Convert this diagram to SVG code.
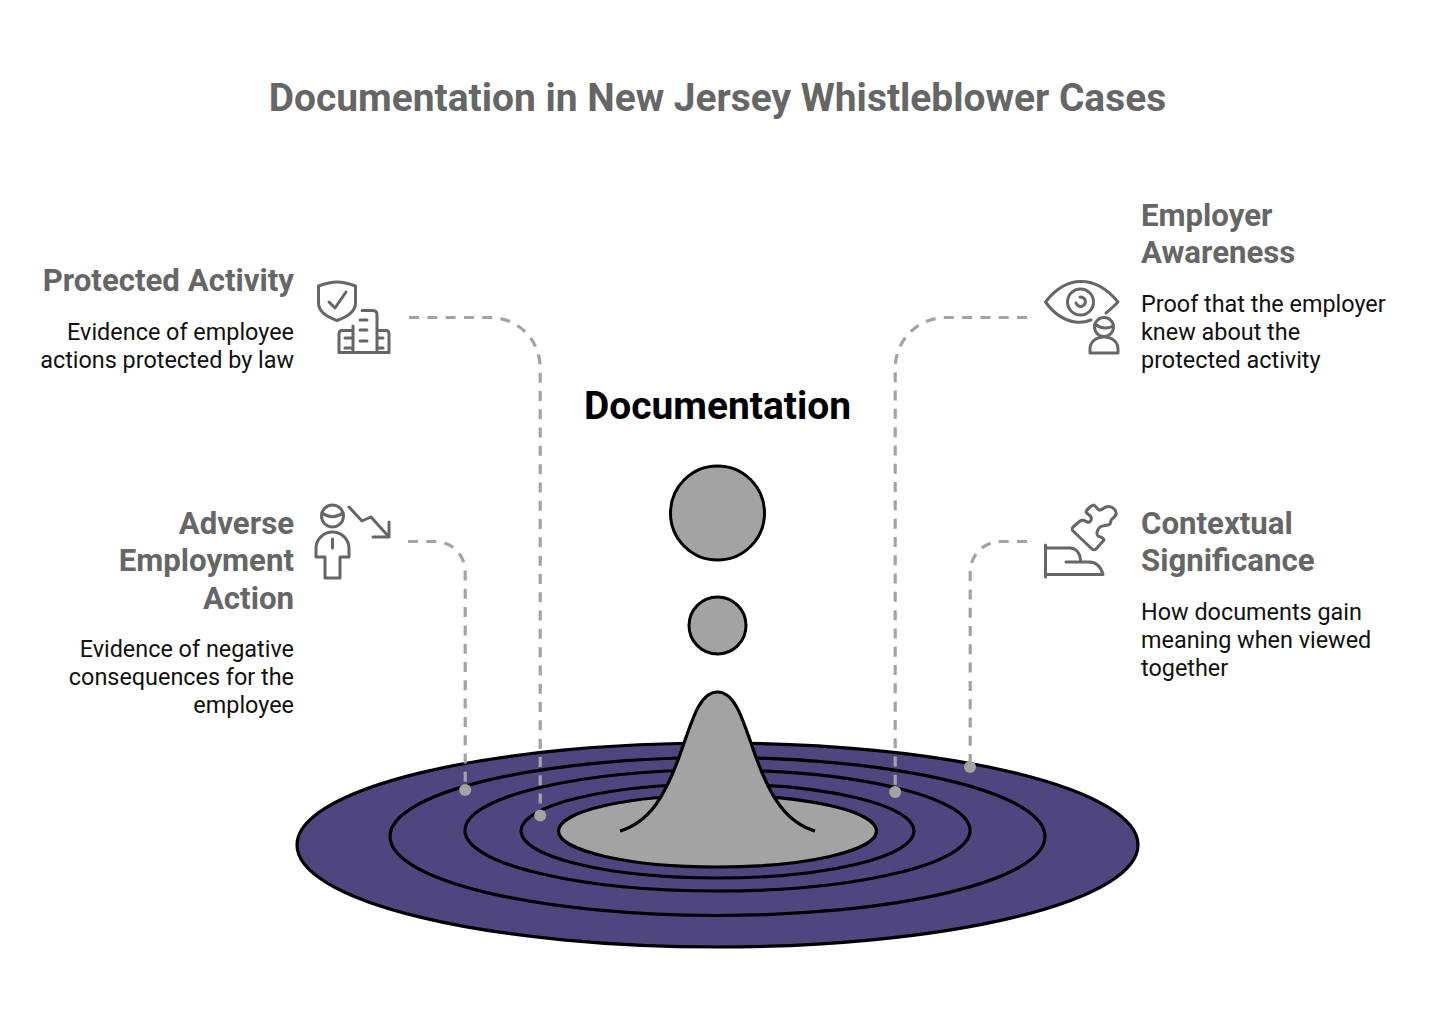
<svg xmlns="http://www.w3.org/2000/svg" width="1432" height="1023" viewBox="0 0 1432 1023">
<style>
text{font-family:Roboto,"Liberation Sans",sans-serif}
.title{font-size:38.9px;font-weight:700;fill:#666}
.head{font-size:31.2px;font-weight:700;fill:#666}
.body{font-size:23.4px;fill:#111}
.end{text-anchor:end}
.ic{fill:none;stroke:#666;stroke-width:3;stroke-linecap:round;stroke-linejoin:round}
.ring{stroke:#000;stroke-width:3.2}
.conn{fill:none;stroke:#a3a3a3;stroke-width:3.2;stroke-dasharray:10 8.3}
.dot{fill:#a3a3a3}
</style>
<rect width="1432" height="1023" fill="#fff"/>
<text id="title" class="title" x="717.5" y="111" text-anchor="middle">Documentation in New Jersey Whistleblower Cases</text>
<g id="ripple">
<ellipse class="ring" cx="717.5" cy="845" rx="420.5" ry="102" fill="#4f457f"/>
<ellipse class="ring" cx="717.5" cy="836.5" rx="327.5" ry="79" fill="#4f457f"/>
<ellipse class="ring" cx="717.5" cy="830.5" rx="252.5" ry="60.5" fill="#4f457f"/>
<ellipse class="ring" cx="717.5" cy="831" rx="196.5" ry="47" fill="#4f457f"/>
<ellipse class="ring" cx="717.5" cy="831" rx="159" ry="36" fill="#a3a3a3"/>
<path d="M620 831C650 822 665 795 678 760C691 725 698 692 717.5 692C737 692 744 725 757 760C770 795 785 822 815 831L780 862H655Z" fill="#a3a3a3"/>
<path d="M620 831C650 822 665 795 678 760C691 725 698 692 717.5 692C737 692 744 725 757 760C770 795 785 822 815 831" fill="none" stroke="#000" stroke-width="3.2"/>
<circle cx="717.5" cy="513" r="47" fill="#a3a3a3" stroke="#000" stroke-width="3"/>
<circle cx="717.5" cy="625.5" r="28.5" fill="#a3a3a3" stroke="#000" stroke-width="3"/>
<text x="717.5" y="419" text-anchor="middle" font-size="38.900" font-weight="700" fill="#000">Documentation</text>
</g>
<g id="connectors">
<path class="conn" d="M409 317.500H490C518 317.500 540.200 340 540.200 368V810"/>
<path class="conn" d="M408 541.500H435C452 541.500 465.200 555 465.200 572V785"/>
<path class="conn" d="M1027 317.500H946C918 317.500 895.200 340 895.200 368V786"/>
<path class="conn" d="M1027 541.500H1001C984 541.500 970.200 555 970.200 572V762"/>
<circle class="dot" cx="540.200" cy="815.500" r="6"/>
<circle class="dot" cx="465.200" cy="790" r="6"/>
<circle class="dot" cx="895.200" cy="792" r="6"/>
<circle class="dot" cx="970" cy="767" r="6"/>
</g>
<g id="protected-activity">
<text class="head end" x="294" y="291">Protected Activity</text>
<text class="body end" x="294" y="339.500">Evidence of employee</text>
<text class="body end" x="294" y="367.500">actions protected by law</text>
<g class="ic">
<path d="M337 282C330 282 324 284 318.500 286V303C318.500 311 327 317 337 320.500C347 317 355.500 311 355.500 303V286C350 284 344 282 337 282Z"/>
<path d="M329 302L335 308L346 292"/>
<path d="M362 310.500H373C376 310.500 377 312 377 315V352M353 352V326M360 320H367M360 330H367M360 341H367M339 352.500H389V334C389 332 388 330.500 386 330.500H377M353 330.500H342C340 330.500 339 332 339 334V352.500M345 338H352M345 348H352M378 338H383M378 348H383"/>
</g>
</g>
<g id="adverse-employment-action">
<text class="head end" x="294" y="534">Adverse</text>
<text class="head end" x="294" y="571">Employment</text>
<text class="head end" x="294" y="609">Action</text>
<text class="body end" x="294" y="657">Evidence of negative</text>
<text class="body end" x="294" y="685">consequences for the</text>
<text class="body end" x="294" y="713">employee</text>
<g class="ic">
<circle cx="332.500" cy="516" r="11"/>
<path d="M322 513C329 518 336 518 343 513"/>
<path d="M332.500 532C324 532 316 539 316 548V557H325V578H340V557H349V548C349 539 341 532 332.500 532ZM332.500 539V548"/>
<path d="M349 507L362 521L371 517L389 537M389 522V537H373"/>
</g>
</g>
<g id="employer-awareness">
<text class="head" x="1141" y="226">Employer</text>
<text class="head" x="1141" y="263">Awareness</text>
<text class="body" x="1141" y="311.500">Proof that the employer</text>
<text class="body" x="1141" y="339.500">knew about the</text>
<text class="body" x="1141" y="367.500">protected activity</text>
<g class="ic">
<path d="M1091 320C1086 322 1081 323 1075 322C1062 320 1052 311 1045.500 302C1054 291 1066 281.500 1081 281.500C1096 281.500 1109 291 1118 302C1114 306 1110 310 1106 313"/>
<circle cx="1080.500" cy="302" r="13"/>
<path d="M1080 297C1085 297 1087 302 1084 305C1081 308 1077 306 1076 303"/>
<circle cx="1104" cy="327" r="9.500"/>
<path d="M1095 324C1101 329 1107 329 1113 326"/>
<path d="M1090 353V349C1090 342 1096 337 1104 337C1112 337 1118 342 1118 349V353Z"/>
</g>
</g>
<g id="contextual-significance">
<text class="head" x="1141" y="534">Contextual</text>
<text class="head" x="1141" y="571">Significance</text>
<text class="body" x="1141" y="619.500">How documents gain</text>
<text class="body" x="1141" y="647.500">meaning when viewed</text>
<text class="body" x="1141" y="675.500">together</text>
<g class="ic">
<path d="M1073 527L1080 521C1083 519 1085 521 1087 522C1090 523 1092 520 1091 517C1090 515 1087 514 1086 512C1086 510 1092 505 1094 505L1099 510C1101 511 1103 508 1106 507C1109 506 1113 507 1115 510C1117 513 1116 516 1113 518C1110 520 1111 522 1110 524C1108 526 1103 525 1100 527C1097 530 1096 534 1098 536C1100 537 1103 537 1104 540L1096 549C1095 550 1093 550 1092 549L1073 531C1072 530 1072 528 1073 527Z"/>
<path d="M1045.500 545V577M1045.500 548H1070C1076 548 1080 553 1080.500 560M1066 562H1089C1096 562 1101 567 1103 574.500H1045.500"/>
</g>
</g>
</svg>
